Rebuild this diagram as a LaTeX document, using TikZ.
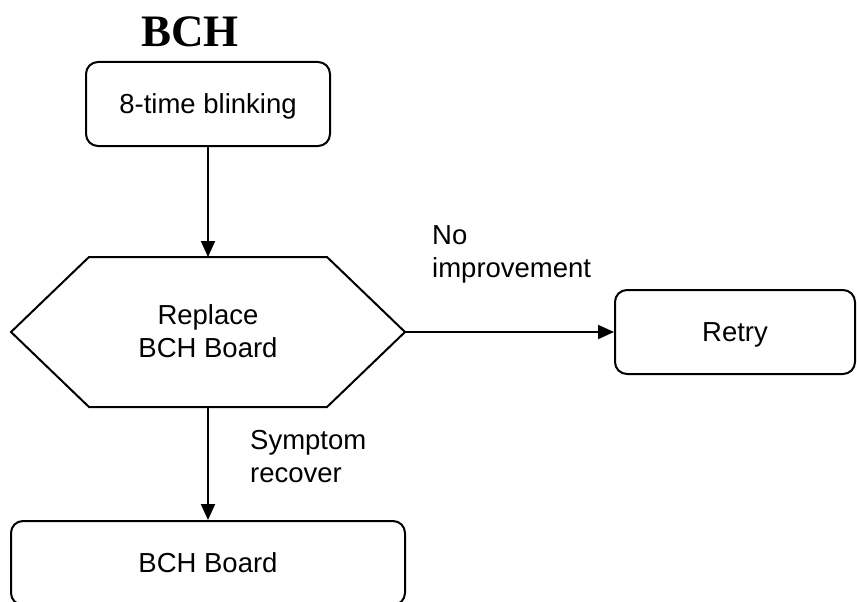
\documentclass[tikz,border=0pt]{standalone}
\usepackage{fontspec}
\setmainfont{Liberation Sans}
\newfontfamily\titlefont{Liberation Serif}
\usepackage{tikz}
\usetikzlibrary{positioning}
\usetikzlibrary{arrows.meta}

\begin{document}
\begin{tikzpicture}[x=1pt,y=-1pt,
    txt/.style={font=\fontsize{27.5}{33}\selectfont},
    box/.style={txt, draw, line width=2pt, rounded corners=12pt,
        minimum height=84pt, text height=19.7pt, text depth=0pt},
    lbl/.style={txt, align=left, inner sep=0pt, anchor=west},
    arrow/.style={line width=2pt, -{Triangle[length=16pt,width=14pt]}}]
    \useasboundingbox (0,0) rectangle (857,602);

    \node[font=\titlefont\bfseries\fontsize{45}{54}\selectfont, anchor=base, inner sep=0pt] (title) at (190,47) {BCH};

    \node[box, minimum width=244pt] (blink) at (208,104) {8-time blinking};

    \node[txt, align=center, inner sep=0pt] (replace) at (208,331) {Replace\\BCH Board};
    \draw[line width=2pt, line join=miter] (11,332) -- (89,257) -- (327,257) -- (405,332) -- (327,407) -- (89,407) -- cycle;
    \coordinate (hexN) at (208,257);
    \coordinate (hexE) at (405,332);
    \coordinate (hexS) at (208,407);

    \node[box, minimum width=240pt] (retry) at (735,332) {Retry};
    \node[box, minimum width=394pt] (board) at (208,563) {BCH Board};

    \draw[arrow] (blink) -- (hexN);
    \draw[arrow] (hexE) -- (retry);
    \draw[arrow] (hexS) -- (board);

    \node[lbl] (noimp) at (432,254.5) {No\\improvement};
    \node[lbl] (recover) at (250,456.5) {Symptom\\recover};
\end{tikzpicture}
\end{document}
